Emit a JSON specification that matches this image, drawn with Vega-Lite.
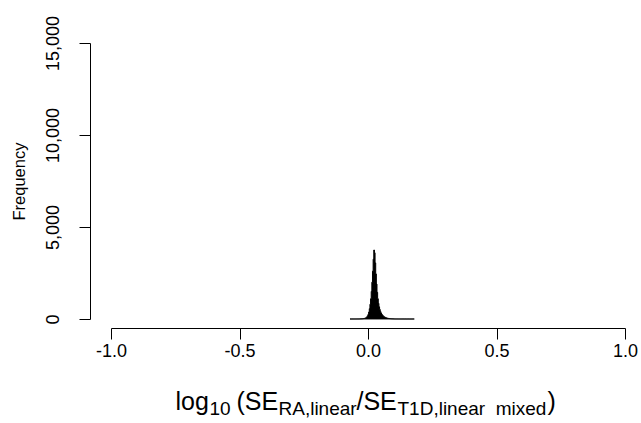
{
  "$schema": "https://vega.github.io/schema/vega-lite/v6.json",
  "width": 514,
  "height": 276,
  "autosize": {"type": "none"},
  "padding": {"left": 111, "top": 43, "right": 16, "bottom": 104},
  "background": "white",
  "config": {
    "view": {"stroke": null},
    "font": "Liberation Sans",
    "axis": {"grid": false, "domainColor": "black", "tickColor": "black", "labelColor": "black", "titleColor": "black", "titleFontWeight": "normal", "labelFont": "Liberation Sans", "titleFont": "Liberation Sans"}
  },
  "resolve": {"axis": {"x": "independent"}},
  "datasets": {
    "hist": [
        {"lo": -0.07, "n": 1}, {"lo": -0.0675, "n": 0}, {"lo": -0.065, "n": 0},
        {"lo": -0.0625, "n": 1}, {"lo": -0.06, "n": 0}, {"lo": -0.0575, "n": 1},
        {"lo": -0.055, "n": 1}, {"lo": -0.0525, "n": 1}, {"lo": -0.05, "n": 2},
        {"lo": -0.0475, "n": 2}, {"lo": -0.045, "n": 2}, {"lo": -0.0425, "n": 3},
        {"lo": -0.04, "n": 3}, {"lo": -0.0375, "n": 4}, {"lo": -0.035, "n": 5},
        {"lo": -0.0325, "n": 6}, {"lo": -0.03, "n": 7}, {"lo": -0.0275, "n": 9},
        {"lo": -0.025, "n": 11}, {"lo": -0.0225, "n": 14}, {"lo": -0.02, "n": 18},
        {"lo": -0.0175, "n": 24}, {"lo": -0.015, "n": 32}, {"lo": -0.0125, "n": 44},
        {"lo": -0.01, "n": 60}, {"lo": -0.0075, "n": 85}, {"lo": -0.005, "n": 120},
        {"lo": -0.0025, "n": 175}, {"lo": 0.0, "n": 260}, {"lo": 0.0025, "n": 380},
        {"lo": 0.005, "n": 560}, {"lo": 0.0075, "n": 800}, {"lo": 0.01, "n": 1100},
        {"lo": 0.0125, "n": 1500}, {"lo": 0.015, "n": 2000}, {"lo": 0.0175, "n": 2600},
        {"lo": 0.02, "n": 3250}, {"lo": 0.0225, "n": 3750}, {"lo": 0.025, "n": 3600},
        {"lo": 0.0275, "n": 3050}, {"lo": 0.03, "n": 2450}, {"lo": 0.0325, "n": 1900},
        {"lo": 0.035, "n": 1450}, {"lo": 0.0375, "n": 1100}, {"lo": 0.04, "n": 850},
        {"lo": 0.0425, "n": 660}, {"lo": 0.045, "n": 520}, {"lo": 0.0475, "n": 410},
        {"lo": 0.05, "n": 330}, {"lo": 0.0525, "n": 265}, {"lo": 0.055, "n": 215},
        {"lo": 0.0575, "n": 175}, {"lo": 0.06, "n": 142}, {"lo": 0.0625, "n": 116},
        {"lo": 0.065, "n": 95}, {"lo": 0.0675, "n": 78}, {"lo": 0.07, "n": 64},
        {"lo": 0.0725, "n": 52}, {"lo": 0.075, "n": 43}, {"lo": 0.0775, "n": 35},
        {"lo": 0.08, "n": 29}, {"lo": 0.0825, "n": 24}, {"lo": 0.085, "n": 20},
        {"lo": 0.0875, "n": 16}, {"lo": 0.09, "n": 13}, {"lo": 0.0925, "n": 11},
        {"lo": 0.095, "n": 9}, {"lo": 0.0975, "n": 7}, {"lo": 0.1, "n": 6},
        {"lo": 0.1025, "n": 5}, {"lo": 0.105, "n": 4}, {"lo": 0.1075, "n": 4},
        {"lo": 0.11, "n": 3}, {"lo": 0.1125, "n": 3}, {"lo": 0.115, "n": 2},
        {"lo": 0.1175, "n": 2}, {"lo": 0.12, "n": 2}, {"lo": 0.1225, "n": 1},
        {"lo": 0.125, "n": 1}, {"lo": 0.1275, "n": 1}, {"lo": 0.13, "n": 1},
        {"lo": 0.1325, "n": 1}, {"lo": 0.135, "n": 0}, {"lo": 0.1375, "n": 1},
        {"lo": 0.14, "n": 0}, {"lo": 0.1425, "n": 0}, {"lo": 0.145, "n": 1},
        {"lo": 0.1475, "n": 0}, {"lo": 0.15, "n": 0}, {"lo": 0.1525, "n": 0},
        {"lo": 0.155, "n": 1}, {"lo": 0.1575, "n": 0}, {"lo": 0.16, "n": 0},
        {"lo": 0.1625, "n": 0}, {"lo": 0.165, "n": 0}, {"lo": 0.1675, "n": 0},
        {"lo": 0.17, "n": 0}, {"lo": 0.1725, "n": 0}, {"lo": 0.175, "n": 1},
        {"lo": 0.1775, "n": 0}, {"lo": 0.18, "n": 0}
    ],
    "anchor": [{"lo": 0}]
  },
  "layer": [
    {
      "data": {"name": "hist"},
      "mark": {"type": "area", "interpolate": "step-after", "color": "black", "stroke": "black", "strokeWidth": 1},
      "encoding": {
        "x": {"field": "lo", "type": "quantitative", "scale": {"domain": [-1, 1]},
          "axis": {"orient": "bottom", "offset": 9, "values": [-1, -0.5, 0, 0.5, 1], "labelExpr": "replace(format(datum.value, '.1f'), '\u2212', '-')", "tickSize": 11, "labelFontSize": 18, "labelPadding": 3, "labelFlush": false, "labelOverlap": false, "title": null}},
        "y": {"field": "n", "type": "quantitative", "scale": {"domain": [0, 15000]},
          "axis": {"offset": 21, "values": [0, 5000, 10000, 15000], "format": ",.0f", "tickSize": 11, "labelAngle": -90, "labelAlign": "center", "labelBaseline": "bottom", "labelPadding": 17, "labelFontSize": 18, "labelFlush": false, "labelOverlap": false,
            "title": "Frequency", "titleFontSize": 16.5, "titleAngle": -90, "titleX": -71, "titleY": 138, "titleAlign": "center", "titleBaseline": "middle"}}
      }
    },
    {
      "data": {"name": "anchor"},
      "mark": {"type": "point", "opacity": 0},
      "encoding": {"x": {"field": "lo", "type": "quantitative", "scale": {"domain": [-1, 1]},
        "axis": {"orient": "bottom", "offset": 9, "domain": false, "ticks": false, "labels": false, "title": "log", "titleFontSize": 25, "titleX": 64, "titleY": 81, "titleAlign": "left", "titleBaseline": "alphabetic", "titleAngle": 0}}}
    },
    {
      "data": {"name": "anchor"},
      "mark": {"type": "point", "opacity": 0},
      "encoding": {"x": {"field": "lo", "type": "quantitative", "scale": {"domain": [-1, 1]},
        "axis": {"orient": "bottom", "offset": 9, "domain": false, "ticks": false, "labels": false, "title": "10", "titleFontSize": 19, "titleX": 98, "titleY": 86, "titleAlign": "left", "titleBaseline": "alphabetic", "titleAngle": 0}}}
    },
    {
      "data": {"name": "anchor"},
      "mark": {"type": "point", "opacity": 0},
      "encoding": {"x": {"field": "lo", "type": "quantitative", "scale": {"domain": [-1, 1]},
        "axis": {"orient": "bottom", "offset": 9, "domain": false, "ticks": false, "labels": false, "title": "(SE", "titleFontSize": 25, "titleX": 125, "titleY": 81, "titleAlign": "left", "titleBaseline": "alphabetic", "titleAngle": 0}}}
    },
    {
      "data": {"name": "anchor"},
      "mark": {"type": "point", "opacity": 0},
      "encoding": {"x": {"field": "lo", "type": "quantitative", "scale": {"domain": [-1, 1]},
        "axis": {"orient": "bottom", "offset": 9, "domain": false, "ticks": false, "labels": false, "title": "RA,linear", "titleFontSize": 19, "titleX": 167, "titleY": 86, "titleAlign": "left", "titleBaseline": "alphabetic", "titleAngle": 0}}}
    },
    {
      "data": {"name": "anchor"},
      "mark": {"type": "point", "opacity": 0},
      "encoding": {"x": {"field": "lo", "type": "quantitative", "scale": {"domain": [-1, 1]},
        "axis": {"orient": "bottom", "offset": 9, "domain": false, "ticks": false, "labels": false, "title": "/SE", "titleFontSize": 25, "titleX": 245, "titleY": 81, "titleAlign": "left", "titleBaseline": "alphabetic", "titleAngle": 0}}}
    },
    {
      "data": {"name": "anchor"},
      "mark": {"type": "point", "opacity": 0},
      "encoding": {"x": {"field": "lo", "type": "quantitative", "scale": {"domain": [-1, 1]},
        "axis": {"orient": "bottom", "offset": 9, "domain": false, "ticks": false, "labels": false, "title": "T1D,linear\u00a0\u00a0mixed", "titleFontSize": 19, "titleX": 286, "titleY": 86, "titleAlign": "left", "titleBaseline": "alphabetic", "titleAngle": 0}}}
    },
    {
      "data": {"name": "anchor"},
      "mark": {"type": "point", "opacity": 0},
      "encoding": {"x": {"field": "lo", "type": "quantitative", "scale": {"domain": [-1, 1]},
        "axis": {"orient": "bottom", "offset": 9, "domain": false, "ticks": false, "labels": false, "title": ")", "titleFontSize": 25, "titleX": 436, "titleY": 81, "titleAlign": "left", "titleBaseline": "alphabetic", "titleAngle": 0}}}
    }
  ]
}
